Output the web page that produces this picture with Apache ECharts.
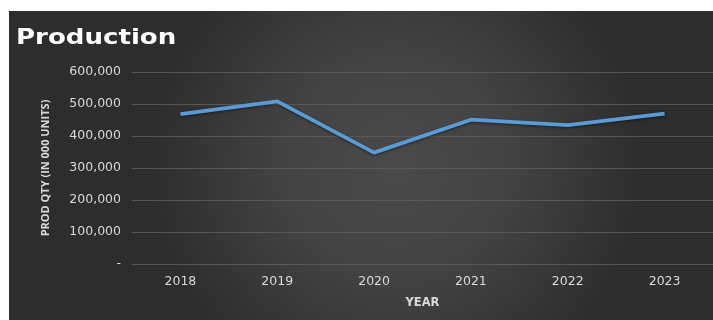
<!DOCTYPE html>
<html>
<head>
<meta charset="utf-8">
<script src="https://cdn.jsdelivr.net/npm/echarts@6/dist/echarts.min.js"></script>
<style>
  html, body { margin: 0; padding: 0; background: #ffffff; }
  #chart { position: absolute; left: 9px; top: 11px; width: 704px; height: 309px; }
</style>
</head>
<body>
<div id="chart"></div>
<script>
// data
const years = ['2018', '2019', '2020', '2021', '2022', '2023'];
const prodQty = [468000, 508000, 348000, 451000, 434000, 470000];
const yTicks = [0, 100000, 200000, 300000, 400000, 500000, 600000];

const chart = echarts.init(document.getElementById('chart'));

const option = {
    backgroundColor: new echarts.graphic.RadialGradient(0.55, 0.5, 0.8, [
        { offset: 0, color: '#4a4a4a' },
        { offset: 0.45, color: '#434343' },
        { offset: 1, color: '#2d2d2d' }
    ]),
    // title drawn as graphic text so it can be widened like the original
    graphic: [
        {
            type: 'text',
            left: 7,
            top: 17,
            scaleX: 1.24,
            style: {
                text: 'Production',
                fill: '#ffffff',
                font: 'bold 21px "DejaVu Sans"'
            }
        }
    ],
    grid: {
        left: 123,
        right: 0,
        top: 61,
        bottom: 56
    },
    xAxis: {
        type: 'category',
        data: years,
        name: 'YEAR',
        nameLocation: 'middle',
        nameGap: 33,
        nameTextStyle: {
            color: '#d9d9d9',
            fontFamily: 'DejaVu Sans',
            fontWeight: 'bold',
            fontSize: 11.5
        },
        axisLine: { show: false },
        axisTick: { show: false },
        axisLabel: {
            color: '#d9d9d9',
            fontFamily: 'DejaVu Sans',
            fontSize: 12.5,
            margin: 11
        }
    },
    yAxis: {
        type: 'value',
        min: yTicks[0],
        max: yTicks[yTicks.length - 1],
        interval: 100000,
        name: 'PROD QTY (IN 000 UNITS)',
        nameLocation: 'middle',
        nameGap: 81,
        nameTextStyle: {
            color: '#d9d9d9',
            fontFamily: 'Liberation Sans Narrow, Open Sans',
            fontWeight: 'bold',
            fontSize: 11
        },
        axisLine: { show: false },
        axisTick: { show: false },
        axisLabel: {
            color: '#d9d9d9',
            fontFamily: 'DejaVu Sans',
            fontSize: 12.5,
            margin: 11,
            formatter: function (v) {
                return v === 0 ? '-' : v.toLocaleString('en-US');
            }
        },
        splitLine: {
            lineStyle: { color: '#585858', width: 1 }
        }
    },
    series: [
        {
            name: 'Production',
            type: 'line',
            data: prodQty,
            symbol: 'none',
            lineStyle: {
                color: '#5b9bd5',
                width: 3.8,
                shadowColor: 'rgba(0,0,0,0.5)',
                shadowBlur: 3,
                shadowOffsetY: 1
            },
            itemStyle: { color: '#5b9bd5' }
        }
    ]
};

chart.setOption(option);
</script>
</body>
</html>
